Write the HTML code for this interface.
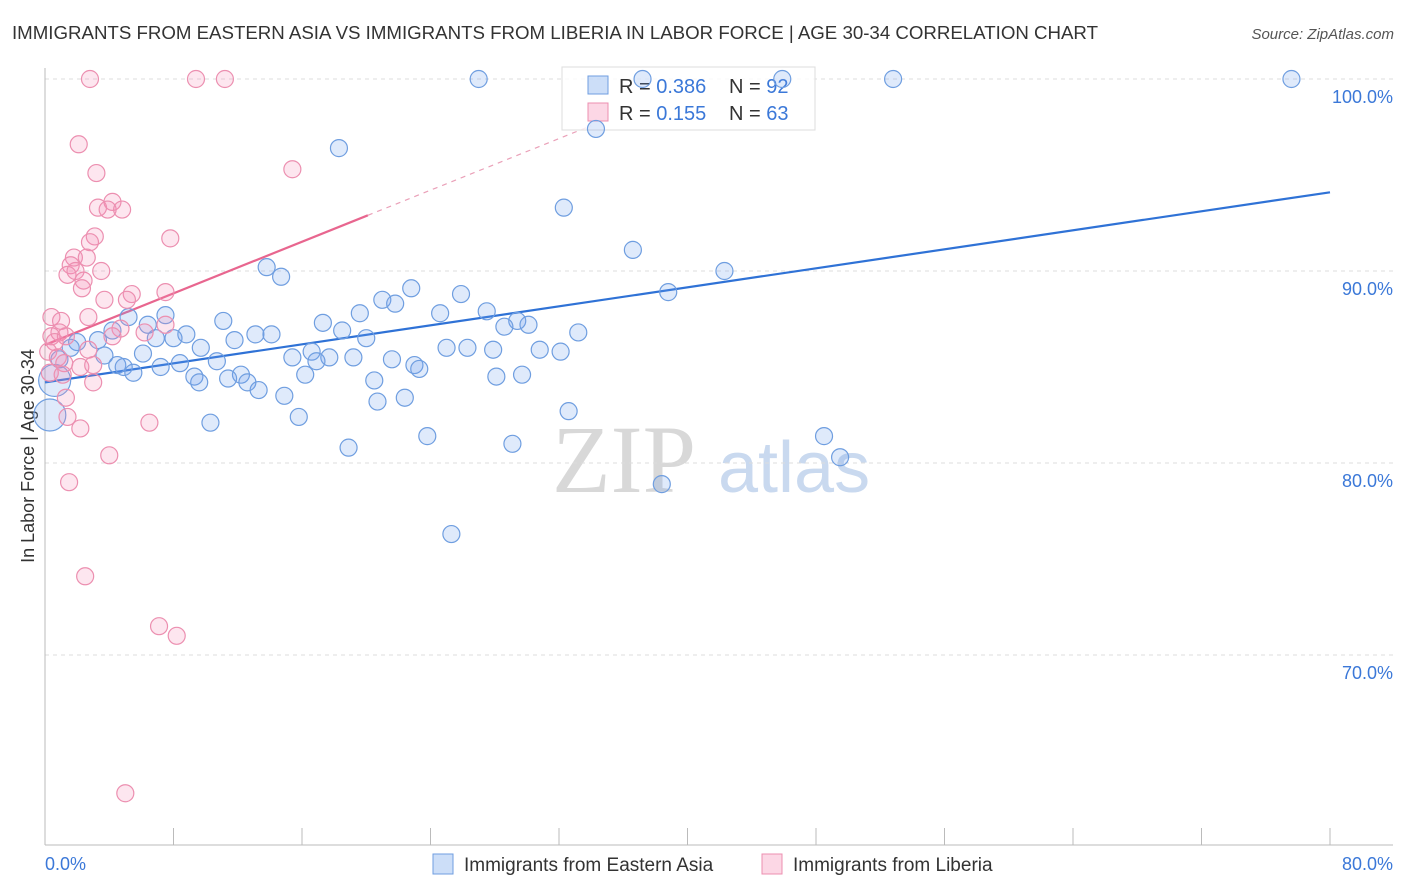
<!DOCTYPE html>
<html><head><meta charset="utf-8"><style>
body{margin:0;background:#fff;font-family:"Liberation Sans",sans-serif}
svg{display:block}
</style></head><body>
<svg id="chart" width="1406" height="892">
<text x="12" y="39" font-size="18.7" fill="#333" textLength="1086">IMMIGRANTS FROM EASTERN ASIA VS IMMIGRANTS FROM LIBERIA IN LABOR FORCE | AGE 30-34 CORRELATION CHART</text>
<text x="1394" y="39" font-size="15" fill="#555" font-style="italic" text-anchor="end">Source: ZipAtlas.com</text>
<text x="0" y="0" transform="translate(34,456) rotate(-90)" font-size="18" fill="#333" text-anchor="middle">In Labor Force | Age 30-34</text>
<g><text x="552" y="492" font-size="96" font-family="Liberation Serif,serif" fill="#d8d8d8">ZIP</text><text x="718" y="492" font-size="72" fill="#c9d9ef">atlas</text></g>
<g id="grid"></g><g id="axes"></g><g id="lines"></g>
<g>
<rect x="562" y="67" width="253" height="63" fill="#fff" fill-opacity="0.8" stroke="#ddd"/>
<rect x="588" y="76" width="20" height="18" fill="rgba(110,160,235,0.35)" stroke="#6f9ee0"/>
<rect x="588" y="103" width="20" height="18" fill="rgba(245,140,180,0.35)" stroke="#ec8fb0"/>
<text x="619" y="93" font-size="20" fill="#333">R = <tspan fill="#3b78d8">0.386</tspan><tspan x="729">N = </tspan><tspan fill="#3b78d8">92</tspan></text>
<text x="619" y="120" font-size="20" fill="#333">R = <tspan fill="#3b78d8"> 0.155</tspan><tspan x="729">N = </tspan><tspan fill="#3b78d8">63</tspan></text>
</g>
<g id="pts"></g>
<g>
<rect x="433" y="854" width="20" height="20" fill="rgba(110,160,235,0.35)" stroke="#6f9ee0"/>
<text x="464" y="871" font-size="19" fill="#333">Immigrants from Eastern Asia</text>
<rect x="762" y="854" width="20" height="20" fill="rgba(245,140,180,0.35)" stroke="#ec8fb0"/>
<text x="793" y="871" font-size="19" fill="#333">Immigrants from Liberia</text>
</g>
</svg>
<script>
const yTicks=[70,80,90,100];
const yTickLabels=["70.0%","80.0%","90.0%","100.0%"];
const xTicks=[0,8,16,24,32,40,48,56,64,72,80];
const xEndLabels=["0.0%","80.0%"];
const blueX=[27.0,45.9,52.8,77.6,37.2,34.3,18.3,32.3,36.6,13.8,14.7,42.3,22.8,38.8,25.9,21.0,21.8,19.6,24.6,27.5,11.1,17.3,29.4,30.1,5.2,7.5,6.4,18.5,28.6,4.2,33.2,8.8,13.1,14.1,11.8,20.0,6.9,8.0,3.3,2.0,1.6,25.0,26.3,27.9,30.8,32.1,9.7,6.1,3.7,16.6,17.7,19.2,15.4,16.9,0.9,21.6,10.7,8.4,4.5,4.9,7.2,23.0,23.3,5.5,9.3,12.2,11.4,16.2,28.1,29.7,20.5,9.6,12.6,13.3,14.9,22.4,20.7,32.6,15.8,10.3,23.8,48.5,29.1,18.9,49.5,38.4,25.3,0.3,0.6];
const blueY=[100,100,100,100,100,97.4,96.4,93.3,91.1,90.2,89.7,90.0,89.1,88.9,88.8,88.5,88.3,87.8,87.8,87.9,87.4,87.3,87.4,87.2,87.6,87.7,87.2,86.9,87.1,86.9,86.8,86.7,86.7,86.7,86.4,86.5,86.5,86.5,86.4,86.3,86.0,86.0,86.0,85.9,85.9,85.8,86.0,85.7,85.6,85.8,85.5,85.5,85.5,85.3,85.4,85.4,85.3,85.2,85.1,85.0,85.0,85.1,84.9,84.7,84.5,84.6,84.4,84.6,84.5,84.6,84.3,84.2,84.2,83.8,83.5,83.4,83.2,82.7,82.4,82.1,81.4,81.4,81.0,80.8,80.3,78.9,76.3,82.5,84.3];
const pinkX=[2.8,9.4,11.2,2.1,3.2,15.4,4.2,3.3,3.9,4.8,7.8,3.1,2.8,1.8,2.6,1.6,3.5,1.4,1.9,2.4,2.3,7.5,5.4,3.7,5.1,0.4,2.7,1.0,7.5,4.7,6.2,0.9,0.4,1.3,0.6,4.2,2.7,0.2,0.8,1.2,2.2,3.0,0.3,1.1,3.0,1.3,1.4,2.2,6.5,4.0,1.5,2.5,7.1,8.2,5.0];
const pinkY=[100,100,100,96.6,95.1,95.3,93.6,93.3,93.2,93.2,91.7,91.8,91.5,90.7,90.7,90.3,90.0,89.8,90.0,89.5,89.1,88.9,88.8,88.5,88.5,87.6,87.6,87.4,87.2,87.0,86.8,86.8,86.6,86.6,86.3,86.6,85.9,85.8,85.5,85.2,85.0,85.1,84.7,84.6,84.2,83.4,82.4,81.8,82.1,80.4,79.0,74.1,71.5,71.0,62.8];
const blueTrend=[84.2,94.1];
const pinkTrend=[86.15,92.9,20.1,34];
const X=v=>45+v/80*1285, Y=v=>79+(100-v)*19.2;
const NS="http://www.w3.org/2000/svg";
function mk(p,t,a){const e=document.createElementNS(NS,t);for(const k in a)e.setAttribute(k,a[k]);p.appendChild(e);return e;}
const grid=document.getElementById('grid'),axes=document.getElementById('axes'),lines=document.getElementById('lines'),pts=document.getElementById('pts');
yTicks.forEach((t,i)=>{
 const l=mk(grid,'line',{x1:45,x2:1393,y1:Y(t),y2:Y(t),stroke:'#ddd','stroke-dasharray':'4,4'});
 
 
 const tx=mk(grid,'text',{x:1393,y:Y(t)+24,'font-size':18,fill:'#3b78d8','text-anchor':'end'});
 tx.textContent=yTickLabels[i];
 
 
});
mk(axes,'line',{x1:45,x2:45,y1:68,y2:845,stroke:'#bbb'});
mk(axes,'line',{x1:45,x2:1393,y1:845,y2:845,stroke:'#bbb'});
xTicks.forEach(t=>{const l=mk(axes,'line',{x1:X(t),x2:X(t),y1:828,y2:845,stroke:'#bbb'});
 
 });
const xl0=mk(axes,'text',{x:45,y:870,'font-size':18,fill:'#3b78d8'});xl0.textContent=xEndLabels[0];


const xl1=mk(axes,'text',{x:1393,y:870,'font-size':18,fill:'#3b78d8','text-anchor':'end'});xl1.textContent=xEndLabels[1];


blueX.forEach((x,i)=>{const big=i>=blueX.length-2;const c=mk(pts,'circle',{cx:X(x),cy:Y(blueY[i]),r:big?16:8.5,fill:'rgba(110,160,235,0.22)',stroke:'#6f9ee0','stroke-width':1.2});
 
 });
pinkX.forEach((x,i)=>{const c=mk(pts,'circle',{cx:X(x),cy:Y(pinkY[i]),r:8.5,fill:'rgba(245,140,180,0.22)',stroke:'#ec8fb0','stroke-width':1.2});
 
 });
const bt=mk(lines,'line',{x1:X(0),y1:Y(blueTrend[0]),x2:X(80),y2:Y(blueTrend[1]),stroke:'#2f72d6','stroke-width':2.2});


const slope=(pinkTrend[1]-pinkTrend[0])/pinkTrend[2];
const pt=mk(lines,'line',{x1:X(0),y1:Y(pinkTrend[0]),x2:X(pinkTrend[2]),y2:Y(pinkTrend[1]),stroke:'#e8668f','stroke-width':2.2});


const pd=mk(lines,'line',{x1:X(pinkTrend[2]),y1:Y(pinkTrend[1]),x2:X(pinkTrend[3]),y2:Y(pinkTrend[0]+slope*pinkTrend[3]),stroke:'#eaa0b8','stroke-width':1.2,'stroke-dasharray':'5,5'});


</script>
</body></html>
